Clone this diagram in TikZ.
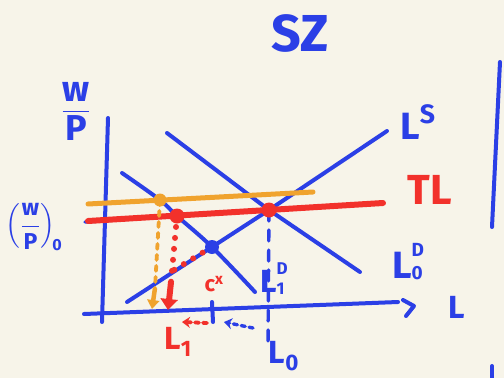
\documentclass[tikz,border=0pt]{standalone}
\usepackage{amsmath}
\usepackage{fontspec}
\setmainfont{Fira Sans}
\usetikzlibrary{arrows.meta}
\definecolor{paper}{HTML}{F7F4E9}
\definecolor{pen}{HTML}{2B3FE6}
\definecolor{penred}{HTML}{F2312B}
\definecolor{penorange}{HTML}{F0A32E}
\newcommand{\hwt}[1]{\text{\bfseries #1}}
\newcommand{\fsz}[1]{\fontsize{#1}{#1}\selectfont}
\newcommand{\supsub}[3]{#1\rlap{\raisebox{#3}{\fsz{17}#2}}}
\tikzset{
  bl/.style={draw=pen, line width=4pt, line cap=round, line join=round},
  rdline/.style={draw=penred, line width=6pt, line cap=round},
  ogline/.style={draw=penorange, line width=5pt, line cap=round},
  dotb/.style={circle, fill=pen, inner sep=0pt, minimum size=14pt},
  dotr/.style={circle, fill=penred, inner sep=0pt, minimum size=15pt},
  doto/.style={circle, fill=penorange, inner sep=0pt, minimum size=13pt},
  lab/.style={text=pen, inner sep=0pt, font=\bfseries\fsz{38}},
  labr/.style={text=penred, inner sep=0pt, font=\bfseries\fsz{38}},
  reddots/.style={draw=penred, line width=6pt, line cap=round, dash pattern=on 0pt off 11pt},
  orgdash/.style={draw=penorange, line width=3.8pt, line cap=round, dash pattern=on 5pt off 6pt},
  bldash/.style={draw=pen, line width=3.4pt, line cap=round, dash pattern=on 11pt off 9pt},
}
\begin{document}
\begin{tikzpicture}[x=1pt, y=-1pt]
\fill[paper] (0,0) rectangle (504,378);
\useasboundingbox (0,0) rectangle (504,378);

% key points
\coordinate (pA) at (269,210);
\coordinate (pB) at (177,216);
\coordinate (pC) at (160,200);
\coordinate (pE) at (212,247);

% axes
\coordinate (yt) at (108,118);
\coordinate (yb) at (102,322);
\coordinate (xl) at (84,314);
\coordinate (xr) at (398,302);
\draw[bl] (yt) -- (yb);
\draw[bl] (xl) -- (xr);
\coordinate (h1) at (403,300);
\coordinate (h2) at (414,306);
\coordinate (h3) at (406,316);
\draw[bl] (h1) -- (h2) -- (h3);

% right border line and bottom tick
\coordinate (r1) at (500,62);
\coordinate (r2) at (492,227);
\draw[bl] (r1) -- (r2);
\coordinate (r3) at (492,366);
\coordinate (r4) at (492,380);
\draw[bl] (r3) -- (r4);

% tick at L*
\coordinate (t1) at (212,302);
\coordinate (t2) at (213,322);
\draw[bl] (t1) -- (t2);

% blue dashed under TL and vertical at L0
\coordinate (w0l) at (85,222);
\draw[bldash] (w0l) -- (pA);
\coordinate (L0b) at (268,347);
\draw[bldash] (pA) -- (L0b);

% demand curves and supply
\coordinate (D0a) at (167,133);
\coordinate (D0b) at (360,272);
\draw[bl] (D0a) -- (pA) -- (D0b);
\coordinate (D1a) at (122,173);
\coordinate (D1b) at (255,292);
\draw[bl] plot[smooth, tension=0.6] coordinates {(D1a) (pC) (pB) (pE) (D1b)};
\coordinate (S1) at (127,302);
\coordinate (S2) at (387,131);
\draw[bl] (S1) -- (pE) -- (pA) -- (S2);

% orange and red horizontal lines
\coordinate (O1) at (88,204);
\coordinate (O2) at (313,192);
\draw[ogline] (O1) -- (O2);
\coordinate (T1) at (88,221);
\coordinate (T2) at (383,203);
\draw[rdline] (T1) -- (T2);

% dashed drops
\coordinate (oArr) at (155,288);
\coordinate (oTip) at (152,309);
\draw[orgdash] (pC) -- (oArr);
\draw[penorange, line width=4.5pt, -{Triangle[length=9pt, width=12pt]}] (oArr) -- (oTip);
\coordinate (rArr) at (171,282);
\coordinate (rTip) at (168,310);
\draw[reddots] (pB) -- (rArr);
\draw[penred, line width=6pt, -{Triangle[length=11pt, width=17pt]}] (rArr) -- (rTip);
\coordinate (rMeet) at (174,270);
\draw[reddots] (pE) -- (rMeet);

% shift arrows under axis
\coordinate (ra1) at (207,323);
\coordinate (ra2) at (182,322);
\draw[penred, line width=3.8pt, line cap=round, dash pattern=on 4pt off 4pt, -{Stealth[length=8pt, width=11pt]}] (ra1) -- (ra2);
\coordinate (ba1) at (253,328);
\coordinate (ba2) at (224,322);
\draw[pen, line width=3.4pt, line cap=round, dash pattern=on 4pt off 4pt, -{Stealth[length=8pt, width=11pt]}] (ba1) -- (ba2);

% dots
\node[dotr] (A) at (pA) {};
\node[dotr] (B) at (pB) {};
\node[doto] (C) at (pC) {};
\node[dotb] (E) at (pE) {};

% labels
\node[lab, font=\bfseries\fsz{52}] (title) at (300,33) {SZ};
\node[lab, font=\bfseries\fsz{36}] (ylab) at (76,111) {$\dfrac{\hwt{w}}{\hwt{P}}$};
\node[lab, font=\bfseries\fsz{23}] (w0) at (34,227) {$\left(\dfrac{\hwt{w}}{\hwt{P}}\right)_{\!\hwt{0}}$};
\node[lab] (LS) at (418,122) {$\hwt{L}^{\hwt{S}}$};
\node[labr, font=\bfseries\fsz{42}] (TL) at (430,190) {TL};
\node[lab, anchor=base west] (LD0) at (392,278) {L\rlap{\raisebox{22pt}{\fsz{19}D}}\raisebox{-1pt}{\fsz{19}0}};
\node[lab, font=\bfseries\fsz{32}, anchor=base west] (LD1) at (260,292) {L\rlap{\raisebox{18pt}{\fsz{17}D}}\raisebox{-2pt}{\fsz{17}1}};
\node[lab, font=\bfseries\fsz{32}] (Lax) at (457,307) {L};
\node[labr, font=\bfseries\fsz{22}] (cx) at (214,284) {$\hwt{c}^{\hwt{x}}$};
\node[labr, font=\bfseries\fsz{32}] (L1) at (178,342) {$\hwt{L}_{\hwt{1}}$};
\node[lab, font=\bfseries\fsz{32}] (L0) at (284,356) {$\hwt{L}_{\hwt{0}}$};
\end{tikzpicture}
\end{document}
